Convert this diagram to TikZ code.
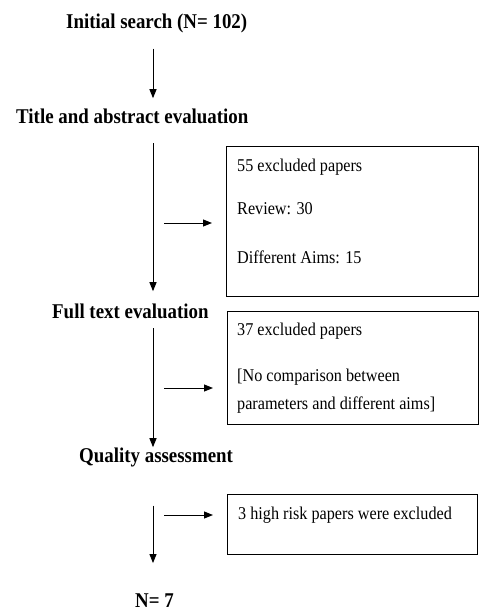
\documentclass[tikz,border=0pt]{standalone}
\usepackage{fontspec}
\setmainfont[FakeStretch=0.9]{Liberation Serif}
\usetikzlibrary{positioning,arrows.meta}

\begin{document}
\begin{tikzpicture}[
  x=1pt, y=-1pt,
  every node/.style={inner sep=0pt},
  stage/.style={font=\fontsize{21}{25}\selectfont\bfseries, anchor=base west},
  note/.style={font=\fontsize{18}{22}\selectfont, anchor=base west},
  exclbox/.style={draw, line width=1pt, anchor=north west},
  flow/.style={draw, line width=1pt, -{Triangle[length=9pt,width=7pt]}},
  ]
  \useasboundingbox (0,0) rectangle (480,613);

  % stages
  \node [stage] (initial-search) at (66,28) {Initial search (N= 102)};
  \node [stage] (title-eval) at (16,123) {Title and abstract evaluation};
  \node [stage] (fulltext-eval) at (52,318) {Full text evaluation};
  \node [stage] (quality-eval) at (79,462) {Quality assessment};
  \node [stage] (final-count) at (135,607) {N= 7};

  % excluded boxes
  \node [exclbox, minimum width=252pt, minimum height=150pt] (excl1-box) at (226,146) {};
  \node [note] (excl1-head) at (237,171) {55 excluded papers};
  \node [note] (excl1-review) at (237,214) {Review: 30};
  \node [note] (excl1-aims) at (237,263) {Different Aims: 15};

  \node [exclbox, minimum width=251pt, minimum height=113pt] (excl2-box) at (227,311) {};
  \node [note] (excl2-head) at (237,335) {37 excluded papers};
  \node [note] (excl2-reason) at (237,381) {[No comparison between};
  \node [note] (excl2-reason2) at (237,409) {parameters and different aims]};

  \node [exclbox, minimum width=250pt, minimum height=60pt] (excl3-box) at (227,494) {};
  \node [note] (excl3-head) at (238,519) {3 high risk papers were excluded};

  % main flow
  \coordinate (trunk) at (153,0);
  \draw [flow, shorten <=16pt, shorten >=10pt] (initial-search.south -| trunk) -- (title-eval.north -| trunk);
  \draw [flow, shorten <=20pt, shorten >=12pt] (title-eval.south -| trunk) -- (fulltext-eval.north -| trunk);
  \draw [flow, shorten <=10pt, shorten >=0pt] (fulltext-eval.south -| trunk) -- (quality-eval.north -| trunk);
  \draw [flow, shorten <=39pt, shorten >=30pt] (quality-eval.south -| trunk) -- (final-count.north -| trunk);

  % side arrows
  \coordinate (side1) at (164,223);
  \coordinate (side2) at (164,388);
  \coordinate (side3) at (164,515);
  \draw [flow, shorten >=14pt] (side1) -- (side1 -| excl1-box.west);
  \draw [flow, shorten >=14pt] (side2) -- (side2 -| excl2-box.west);
  \draw [flow, shorten >=14pt] (side3) -- (side3 -| excl3-box.west);

\end{tikzpicture}
\end{document}
